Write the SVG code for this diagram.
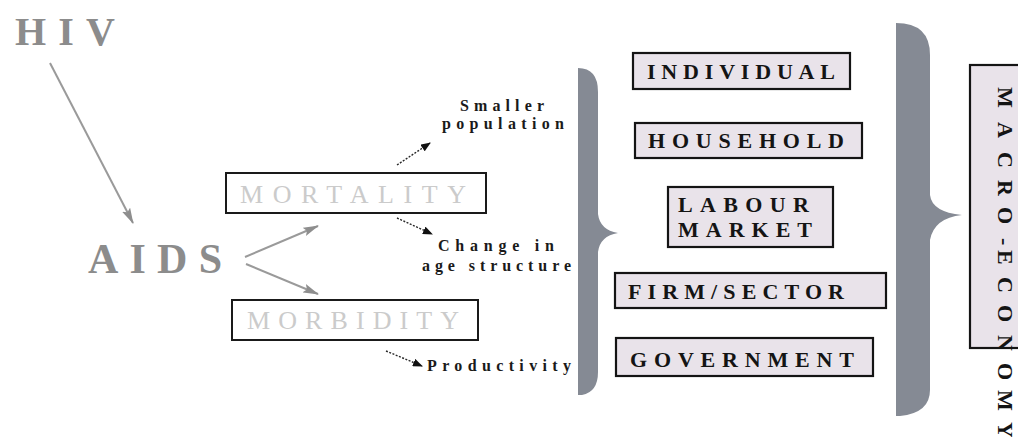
<svg xmlns="http://www.w3.org/2000/svg" width="1018" height="437" viewBox="0 0 1018 437">
  <style>
    .big { font-family: "Liberation Serif", "Times New Roman", serif; font-weight: bold; fill: #8c8c8c; }
    .faint { font-family: "Liberation Serif", "Times New Roman", serif; font-size: 26px; fill: #cbcbcb; }
    .small { font-family: "Liberation Serif", "Times New Roman", serif; font-size: 16px; font-weight: bold; fill: #1a1a1a; }
    .sector { font-family: "Liberation Serif", "Times New Roman", serif; font-size: 22px; font-weight: bold; fill: #141414; }
    .frame { fill: #ffffff; stroke: #1a1a1a; stroke-width: 2; }
    .tile { fill: #e9e3ea; stroke: #141414; stroke-width: 2.2; }
    .brace { fill: #858a94; }
    .grey-arrow { fill: none; stroke: #9a9a9a; stroke-width: 2; marker-end: url(#headGrey); }
    .dot-arrow { fill: none; stroke: #2a2a2a; stroke-width: 1.4; stroke-dasharray: 2 1.5; marker-end: url(#headDark); }
  </style>
  <defs>
    <marker id="headGrey" viewBox="0 0 16 9" refX="15" refY="4.5" markerWidth="16" markerHeight="9" markerUnits="userSpaceOnUse" orient="auto">
      <path d="M0,0 L16,4.5 L0,9 L3,4.5 Z" fill="#8e8e8e"/>
    </marker>
    <marker id="headDark" viewBox="0 0 10 8" refX="9" refY="4" markerWidth="10" markerHeight="8" markerUnits="userSpaceOnUse" orient="auto">
      <path d="M0,0 L10,4 L0,8 Z" fill="#111111"/>
    </marker>
  </defs>

  <rect width="1018" height="437" fill="#ffffff"/>

  <!-- connectors -->
  <g id="connectors">
    <path class="grey-arrow" d="M50,63 L133,223"/>
    <path class="grey-arrow" d="M245,257 L318,226"/>
    <path class="grey-arrow" d="M246,264 L318,294"/>
    <path class="dot-arrow" d="M397,165 L430,143"/>
    <path class="dot-arrow" d="M397,218 L432,234"/>
    <path class="dot-arrow" d="M386,351 L422,366"/>
  </g>

  <g id="hiv">
    <text class="big" x="15" y="45" font-size="40" textLength="100" lengthAdjust="spacing">HIV</text>
  </g>

  <g id="aids">
    <text class="big" x="88" y="273" font-size="42" textLength="134" lengthAdjust="spacing">AIDS</text>
  </g>

  <g id="mortality">
    <rect class="frame" x="226" y="173" width="260" height="40"/>
    <text class="faint" x="240" y="203" textLength="226" lengthAdjust="spacing">MORTALITY</text>
  </g>

  <g id="morbidity">
    <rect class="frame" x="232" y="300" width="246" height="40"/>
    <text class="faint" x="247" y="329" textLength="212" lengthAdjust="spacing">MORBIDITY</text>
  </g>

  <g id="smaller-population">
    <text class="small" x="460" y="111" textLength="84" lengthAdjust="spacing">Smaller</text>
    <text class="small" x="442" y="129" textLength="122" lengthAdjust="spacing">population</text>
  </g>

  <g id="age-structure">
    <text class="small" x="438" y="251" textLength="116" lengthAdjust="spacing">Change in</text>
    <text class="small" x="422" y="271" textLength="149" lengthAdjust="spacing">age structure</text>
  </g>

  <g id="productivity">
    <text class="small" x="427" y="371" textLength="144" lengthAdjust="spacing">Productivity</text>
  </g>

  <!-- braces gathering the levels -->
  <g id="brace-levels">
    <path class="brace" d="M578,68 Q598,68 598,92 L598,214 Q600,230 618,233 Q600,236 598,252 L598,372 Q598,392 582,395 L578,395 Z"/>
  </g>

  <g id="individual">
    <rect class="tile" x="633" y="53" width="217" height="36"/>
    <text class="sector" x="647" y="79" textLength="188" lengthAdjust="spacing">INDIVIDUAL</text>
  </g>

  <g id="household">
    <rect class="tile" x="635" y="123" width="227" height="35"/>
    <text class="sector" x="648" y="148" textLength="196" lengthAdjust="spacing">HOUSEHOLD</text>
  </g>

  <g id="labour-market">
    <rect class="tile" x="668" y="187" width="165" height="60"/>
    <text class="sector" x="678" y="212" textLength="131" lengthAdjust="spacing">LABOUR</text>
    <text class="sector" x="678" y="237" textLength="134" lengthAdjust="spacing">MARKET</text>
  </g>

  <g id="firm-sector">
    <rect class="tile" x="615" y="273" width="271" height="35"/>
    <text class="sector" x="628" y="299" textLength="216" lengthAdjust="spacing">FIRM/SECTOR</text>
  </g>

  <g id="government">
    <rect class="tile" x="616" y="338" width="257" height="38"/>
    <text class="sector" x="630" y="367" textLength="224" lengthAdjust="spacing">GOVERNMENT</text>
  </g>

  <g id="brace-economy">
    <path class="brace" d="M896,23 Q930,23 930,55 L930,195 Q932,212 962,215 Q934,218 930,240 L930,390 Q930,413 900,416 L896,416 Z"/>
  </g>

  <g id="macro-economy">
    <rect class="tile" x="970" y="65" width="60" height="283"/>
    <text class="sector" font-size="24" transform="translate(998,87) rotate(90)" x="0 35 65 93 120 151 163 190 218 248 276 303 335" y="0">MACRO-ECONOMY</text>
  </g>
</svg>
